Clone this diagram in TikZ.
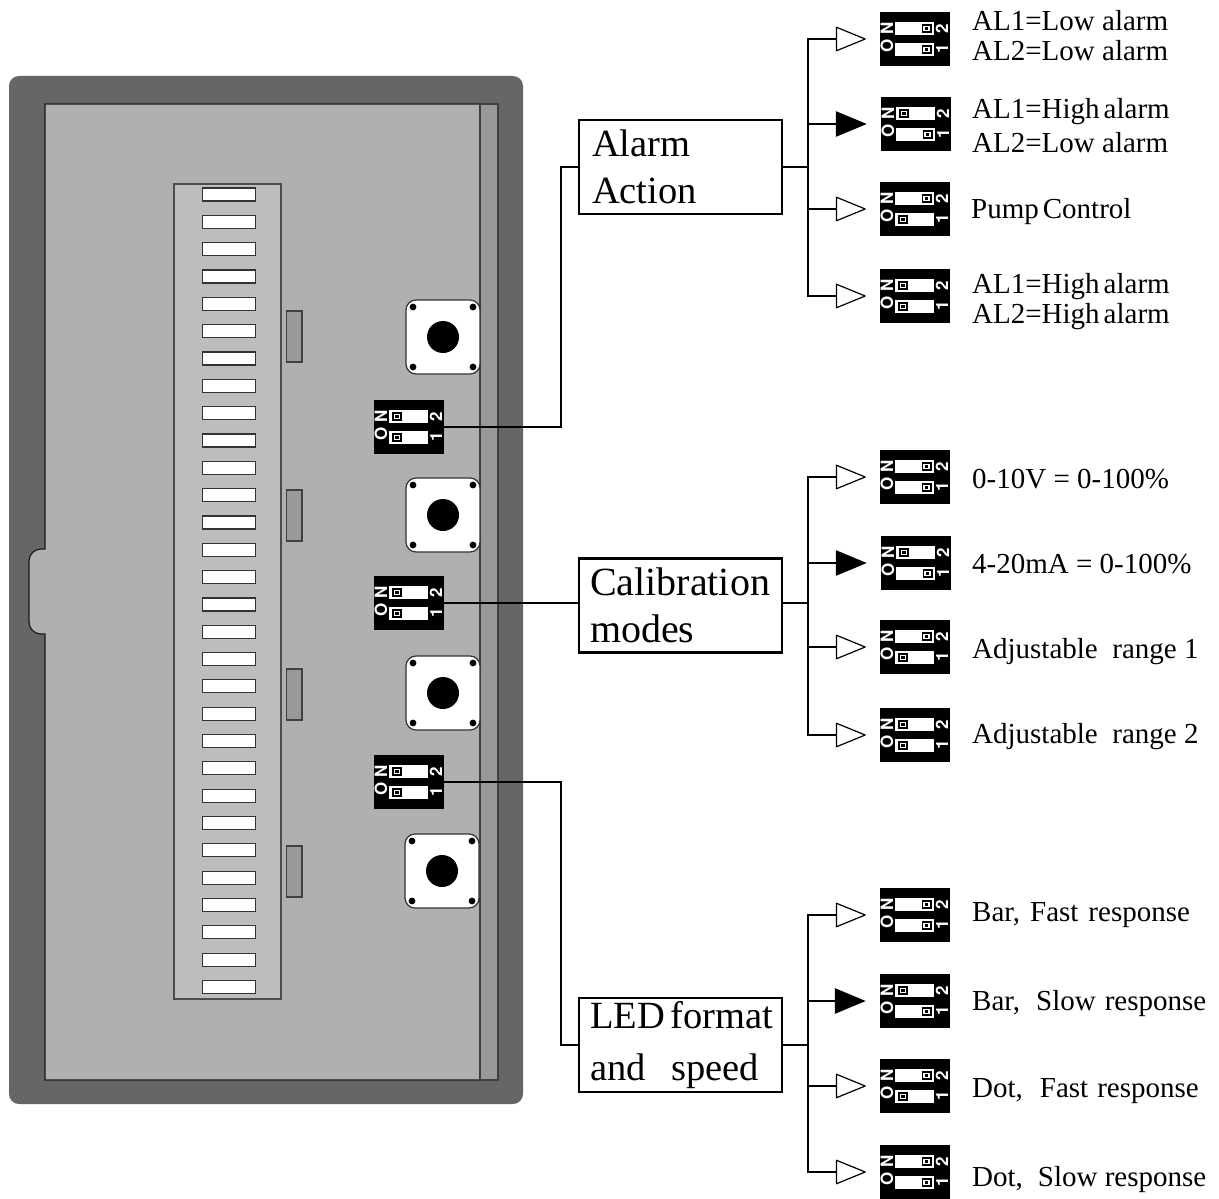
\documentclass[tikz,border=0pt]{standalone}
\usepackage{fontspec}
\setmainfont{Liberation Serif}
\newfontfamily\dipfont{TeX Gyre Heros}
\usetikzlibrary{arrows.meta}
\definecolor{bezel}{gray}{0.40}
\definecolor{face}{gray}{0.69}
\definecolor{rail}{gray}{0.60}
\definecolor{strip}{gray}{0.74}
\newcommand{\fs}[1]{\fontsize{#1}{47}\selectfont}
\tikzset{x=1pt,y=-1pt,
  wire/.style={line width=2.8pt,draw=black},
  opentip/.style={wire,-{Triangle[length=31pt,width=25pt,line width=1.2pt,fill=white,round=false]},shorten >=14pt},
  filltip/.style={wire,-{Triangle[length=31pt,width=25pt,fill=black]},shorten >=14pt},
  boxnode/.style={draw=black,line width=2.8pt,fill=white,minimum width=203pt,minimum height=94pt,inner sep=0pt,text width=181pt,align=left,font=\fs{38.5}},
  lbl/.style={anchor=base west,inner sep=0pt,font=\fs{29}},
  dipbody/.style={fill=black,draw=none,minimum width=70pt,minimum height=54pt,inner sep=0pt},
  dipch/.style={text=white,font=\dipfont\bfseries\fs{17},rotate=90,inner sep=0pt},
}
% \dip{name}{left}{top}{state of 2}{state of 1}; state = x offset of the slider
\newcommand{\dipslot}[2]{%
  \fill[white] (15,#2) rectangle (54,#2+12.7);
  \fill[black] (#1,#2+2.2) rectangle (#1+10,#2+10.7);
  \fill[white] (#1+1.6,#2+3.8) rectangle (#1+8.4,#2+9.1);
  \fill[black] (#1+3.2,#2+5) rectangle (#1+6.8,#2+7.9);
}
\newcommand{\dip}[5]{%
  \node[dipbody] (#1) at (#2+35,#3+27) {};
  \begin{scope}[shift={(#2,#3)}]
    \dipslot{#4}{10}
    \dipslot{#5}{31}
    \node[dipch] (#1n) at (7,16) {N};
    \node[dipch] (#1o) at (7,33.5) {O};
    \node[dipch] (#1a) at (62,16.5) {2};
    \node[dipch] (#1b) at (62,37) {1};
  \end{scope}
}
\newcommand{\knob}[3]{%
  \node[draw=none,inner sep=0pt] (#1) at (#2,#3) {};
  \draw[fill=white,draw=black!80,line width=1.2pt,rounded corners=10pt] (#2-37,#3-37) rectangle (#2+37,#3+37);
  \fill[black] (#2,#3) circle (16);
  \foreach \dx in {-30,30} \foreach \dy in {-30,30} \fill[black] (#2+\dx,#3+\dy) circle (3.4);
}
\begin{document}
\begin{tikzpicture}
\useasboundingbox (0,0) rectangle (1219,1199);
\fill[white] (0,0) rectangle (1219,1199);
% housing
\fill[bezel,rounded corners=10pt] (9,76) rectangle (523,1104);
\draw[fill=face,line width=1.2pt,draw=black!90]
  (45,104) -- (498,104) -- (498,1080) -- (45,1080) -- (45,634) -- (41,634)
  arc[start angle=90,end angle=180,radius=12] -- (29,561)
  arc[start angle=180,end angle=270,radius=12] -- (45,549) -- cycle;
\draw[fill=rail,line width=1.2pt,draw=black!75] (480,104) rectangle (498,1080);
% terminal strip
\draw[fill=strip,line width=1.1pt,draw=black!70] (174,184) rectangle (281,999);
\foreach \i in {0,...,29}
  \draw[fill=white,line width=1.1pt,draw=black!80] (202.5,188+\i*27.33) rectangle (255.5,201+\i*27.33);
\foreach \ty in {311,490,669,846}
  \draw[fill=rail,line width=1.1pt,draw=black!75] (286.5,\ty) rectangle (302,\ty+51);
% push buttons
\knob{ka}{443}{337}
\knob{kb}{443}{515}
\knob{kc}{443}{693}
\knob{kd}{442}{871}
% rear switches
\dip{sa}{374}{400}{18}{18}
\dip{sb}{374}{576}{18}{18}
\dip{sc}{374}{755}{18}{18}
% group boxes
\node[boxnode] (alarm) at (680.5,167) {\hspace*{2pt}Alarm\\\hspace*{2pt}Action};
\node[boxnode,font=\fs{40}] (calib) at (680.5,605.5) {Calibration\\modes};
\node[boxnode] (led) at (680.5,1045) {\vspace*{5pt}\mbox{LED\hspace{5.5pt}format}\\and\ \ speed};
% alarm options
\dip{a1}{880}{12}{41.5}{41.5}
\dip{a2}{881}{97}{18}{41.5}
\dip{a3}{880}{182}{41.5}{18}
\dip{a4}{880}{269}{18}{18}
% calibration options
\dip{c1}{880}{450}{41.5}{41.5}
\dip{c2}{881}{536}{18}{41.5}
\dip{c3}{880}{620}{41.5}{18}
\dip{c4}{880}{708}{18}{18}
% LED options
\dip{l1}{880}{888}{41.5}{41.5}
\dip{l2}{880}{974}{18}{41.5}
\dip{l3}{880}{1059}{41.5}{18}
\dip{l4}{880}{1145}{41.5}{41.5}
% buses
\coordinate (busa) at (808,167);
\coordinate (busc) at (808,603);
\coordinate (busl) at (808,1045);
\coordinate (ja) at (561,427);
\coordinate (jl) at (561,782);
\draw[wire] (sa.east) -- (ja) |- (alarm.west);
\draw[wire] (sb.east) -- (sb.east -| calib.west);
\draw[wire] (sc.east) -- (jl) |- (led.west);
\draw[wire] (alarm.east) -- (busa);
\draw[wire] (calib.east |- busc) -- (busc);
\draw[wire] (led.east) -- (busl);
\draw[opentip] (busa) |- (a1);
\draw[filltip] (busa) |- (a2);
\draw[opentip] (busa) |- (a3);
\draw[opentip] (busa) |- (a4);
\draw[opentip] (busc) |- (c1);
\draw[filltip] (busc) |- (c2);
\draw[opentip] (busc) |- (c3);
\draw[opentip] (busc) |- (c4);
\draw[opentip] (busl) |- (l1);
\draw[filltip] (busl) |- (l2);
\draw[opentip] (busl) |- (l3);
\draw[opentip] (busl) |- (l4);
% option labels
\node[lbl] (t1) at (972,31) {AL1=Low alarm};
\node[lbl] (t2) at (972,61) {AL2=Low alarm};
\node[lbl] (t3) at (972,118) {AL1=High\hspace{4pt}alarm};
\node[lbl] (t4) at (972,152) {AL2=Low alarm};
\node[lbl] (t5) at (971,218) {Pump\hspace{4pt}Control};
\node[lbl] (t6) at (972,293) {AL1=High\hspace{4pt}alarm};
\node[lbl] (t7) at (972,323) {AL2=High\hspace{4pt}alarm};
\node[lbl] (t8) at (972,488) {0-10V = 0-100\%};
\node[lbl] (t9) at (972,573) {4-20mA = 0-100\%};
\node[lbl] (t10) at (972,658) {Adjustable\ \ range 1};
\node[lbl] (t11) at (972,743) {Adjustable\ \ range 2};
\node[lbl] (t12) at (972,921) {Bar,\hspace{10pt}Fast\hspace{10pt}response};
\node[lbl] (t13) at (972,1010) {Bar,\hspace{16pt}Slow\hspace{9pt}response};
\node[lbl] (t14) at (972,1097) {Dot,\hspace{17pt}Fast\hspace{9pt}response};
\node[lbl] (t15) at (972,1186) {Dot,\hspace{15pt}Slow response};
\end{tikzpicture}
\end{document}
